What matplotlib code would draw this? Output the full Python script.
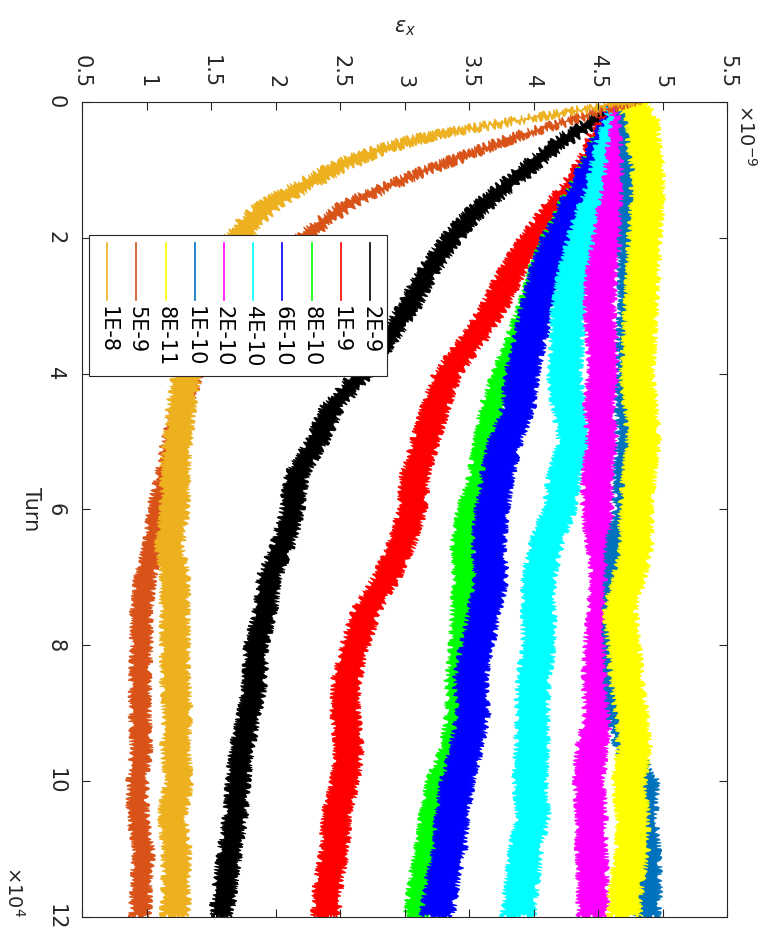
import matplotlib
matplotlib.use("Agg")
import matplotlib.pyplot as plt
from matplotlib.lines import Line2D
from matplotlib.patches import Rectangle

# turn (x 1e4) and emittance (x 1e-9)
turn = [0, 0.25, 0.5, 0.75, 1, 1.25, 1.5, 1.75, 2, 2.5, 3, 3.5, 4, 4.5, 5, 5.5,
        6, 6.5, 7, 7.5, 8, 8.5, 9, 9.5, 10, 10.5, 11, 11.5, 12]

eps_2e9 = [4.72, 4.50, 4.28, 4.10, 3.94, 3.78, 3.62, 3.48, 3.37, 3.18, 3.04, 2.86, 2.67, 2.44,
           2.32, 2.16, 2.13, 2.06, 1.95, 1.92, 1.85, 1.84, 1.80, 1.74, 1.71, 1.69, 1.65, 1.61, 1.58]
eps_1e9 = [4.72, 4.62, 4.53, 4.48, 4.40, 4.31, 4.19, 4.10, 4.00, 3.83, 3.70, 3.53, 3.33, 3.24,
           3.16, 3.08, 3.06, 2.98, 2.86, 2.70, 2.62, 2.55, 2.54, 2.57, 2.54, 2.47, 2.46, 2.41, 2.39]
eps_8e10 = [4.72, 4.66, 4.57, 4.51, 4.44, 4.37, 4.29, 4.24, 4.16, 4.06, 3.98, 3.88, 3.78, 3.68,
            3.64, 3.59, 3.51, 3.46, 3.48, 3.46, 3.45, 3.42, 3.42, 3.38, 3.27, 3.22, 3.18, 3.13, 3.10]
eps_6e10 = [4.72, 4.66, 4.58, 4.53, 4.46, 4.40, 4.32, 4.27, 4.19, 4.10, 4.03, 3.97, 3.91, 3.88,
            3.78, 3.72, 3.68, 3.65, 3.67, 3.62, 3.56, 3.51, 3.53, 3.48, 3.41, 3.37, 3.35, 3.29, 3.25]
eps_4e10 = [4.72, 4.68, 4.62, 4.59, 4.56, 4.53, 4.48, 4.43, 4.39, 4.32, 4.27, 4.26, 4.24, 4.27,
            4.32, 4.24, 4.20, 4.10, 4.04, 4.04, 4.04, 4.00, 3.99, 3.99, 3.97, 4.00, 3.94, 3.91, 3.88]
eps_2e10 = [4.72, 4.72, 4.70, 4.68, 4.67, 4.65, 4.62, 4.60, 4.58, 4.53, 4.51, 4.53, 4.54, 4.51,
            4.53, 4.50, 4.49, 4.53, 4.56, 4.54, 4.51, 4.50, 4.51, 4.45, 4.43, 4.45, 4.45, 4.46, 4.46]
eps_1e10 = [4.72, 4.76, 4.77, 4.77, 4.78, 4.78, 4.77, 4.77, 4.76, 4.76, 4.76, 4.75, 4.75, 4.74,
            4.74, 4.73, 4.72, 4.66, 4.65, 4.64, 4.64, 4.65, 4.67, 4.72, 4.87, 4.86, 4.88, 4.89, 4.88]
eps_8e11 = [4.75, 4.84, 4.85, 4.86, 4.89, 4.88, 4.88, 4.87, 4.86, 4.85, 4.83, 4.82, 4.80, 4.83,
            4.85, 4.82, 4.79, 4.80, 4.74, 4.67, 4.70, 4.72, 4.76, 4.78, 4.74, 4.77, 4.77, 4.72, 4.70]
eps_5e9 = [4.75, 4.32, 3.88, 3.53, 3.18, 2.86, 2.57, 2.38, 2.22, 1.95, 1.72, 1.52, 1.36, 1.27,
           1.20, 1.15, 1.09, 1.06, 0.99, 0.96, 0.96, 0.95, 0.95, 0.96, 0.93, 0.93, 0.98, 0.96, 0.95]
eps_1e8 = [4.75, 3.94, 3.19, 2.73, 2.44, 2.20, 1.96, 1.81, 1.71, 1.55, 1.43, 1.35, 1.31, 1.27,
           1.24, 1.22, 1.22, 1.18, 1.22, 1.22, 1.22, 1.22, 1.24, 1.22, 1.25, 1.20, 1.23, 1.23, 1.22]

labels = ["2E-9", "1E-9", "8E-10", "6E-10", "4E-10", "2E-10", "1E-10", "8E-11", "5E-9", "1E-8"]
series = [eps_2e9, eps_1e9, eps_8e10, eps_6e10, eps_4e10, eps_2e10, eps_1e10, eps_8e11, eps_5e9, eps_1e8]
colors = ["#000000", "#FF0000", "#00FF00", "#0000FF", "#00FFFF", "#FF00FF",
          "#0072BD", "#FFFF00", "#D95319", "#EDB120"]
# half width of the noisy band, in axis units
halfw = [0.08, 0.10, 0.09, 0.12, 0.12, 0.11, 0.09, 0.12, 0.07, 0.10]

eps_ticks = [0.5, 1, 1.5, 2, 2.5, 3, 3.5, 4, 4.5, 5, 5.5]
eps_ticklabels = ["0.5", "1", "1.5", "2", "2.5", "3", "3.5", "4", "4.5", "5", "5.5"]
turn_ticks = [0, 2, 4, 6, 8, 10, 12]
turn_ticklabels = ["0", "2", "4", "6", "8", "10", "12"]

W, H = 772, 936
DARK = "#262626"
FS = 15


def fx(x):
    return x / W


def fy(y):
    return 1 - y / H


fig = plt.figure(figsize=(W / 100, H / 100), dpi=100)
ax = fig.add_axes([fx(82), fy(917), fx(727) - fx(82), fy(102) - fy(917)])

for vals, col, hw in zip(series, colors, halfw):
    xs = [v - hw for v in vals] + [v + hw for v in vals[::-1]]
    ys = list(turn) + list(turn[::-1])
    poly = ax.fill(xs, ys, color=col, lw=0.6)[0]
    poly.set_sketch_params(scale=3, length=3, randomness=8)

ax.set_xlim(0.5, 5.5)
ax.set_ylim(12, 0)
ax.xaxis.tick_top()
ax.set_xticks(eps_ticks)
ax.set_xticklabels(eps_ticklabels, rotation=-90)
ax.set_yticks(turn_ticks)
ax.set_yticklabels(turn_ticklabels, rotation=-90)
for lbl in ax.get_yticklabels():
    lbl.set_va("center")
ax.tick_params(which="both", direction="in", top=True, bottom=True, left=True, right=True,
               labeltop=True, labelbottom=False, length=6, width=0.8, colors=DARK,
               labelsize=FS)
ax.tick_params(axis="x", pad=10)
ax.tick_params(axis="y", pad=12)
for sp in ax.spines.values():
    sp.set_color(DARK)
    sp.set_linewidth(0.8)

fig.text(fx(405), fy(28), r"$\epsilon_x$", ha="center", va="center", fontsize=FS, color=DARK)
fig.text(fx(31), fy(509), "Turn", rotation=-90, ha="center", va="center", fontsize=FS, color=DARK)
fig.text(fx(735), fy(104), r"$\times10^{-9}$", rotation=-90, ha="left", va="top",
         fontsize=14, color=DARK)
fig.text(fx(3), fy(917), r"$\times10^{4}$", rotation=-90, ha="left", va="bottom",
         fontsize=14, color=DARK)

# legend, drawn by hand because the whole chart is turned a quarter
fig.add_artist(Rectangle((fx(89), fy(376)), fx(387) - fx(89), fy(235) - fy(376),
                         transform=fig.transFigure, facecolor="white", edgecolor=DARK,
                         lw=0.8, zorder=10))
for i, (lab, col) in enumerate(zip(labels, colors)):
    x = 370 - 29.2 * i
    fig.add_artist(Line2D([fx(x), fx(x)], [fy(243), fy(300)], color=col, lw=1.2,
                          transform=fig.transFigure, zorder=11))
    fig.text(fx(x), fy(306), lab, rotation=-90, ha="center", va="top", fontsize=FS,
             color="black", zorder=11)

fig.savefig("out.png", dpi=100)
